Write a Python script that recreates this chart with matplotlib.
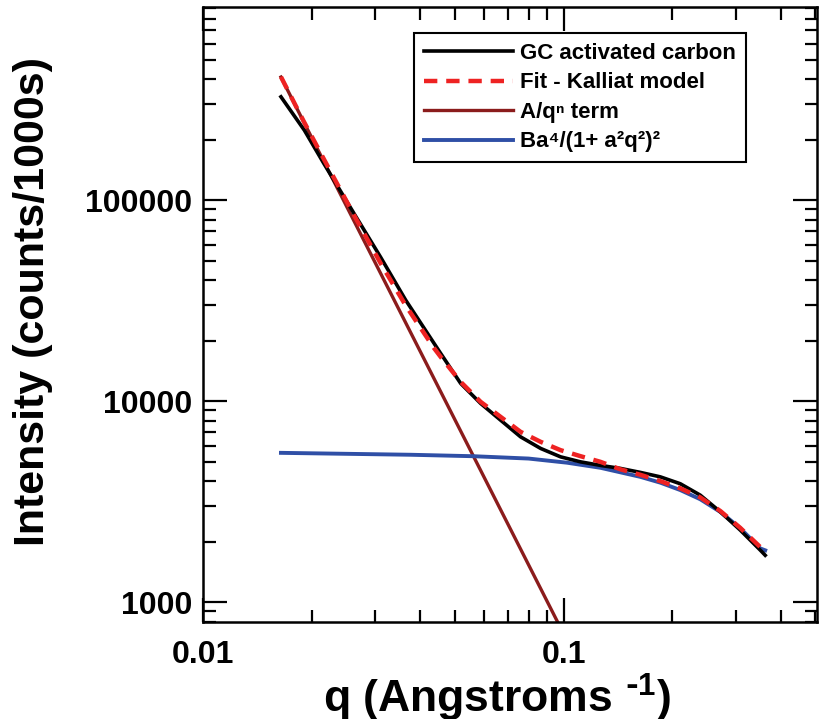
import matplotlib
matplotlib.use("Agg")
import matplotlib.pyplot as plt
from matplotlib.ticker import LogLocator, NullFormatter, FixedLocator, FixedFormatter

plt.rcParams['font.family'] = ['Liberation Sans', 'DejaVu Sans']
plt.rcParams['font.weight'] = 'bold'
plt.rcParams['mathtext.default'] = 'regular'

# data
q_data = [0.01645, 0.0191, 0.0216, 0.0262, 0.0311, 0.0365, 0.0437, 0.04563, 0.05185, 0.0589,
          0.0669, 0.0760, 0.0864, 0.0981, 0.1114, 0.1266, 0.1438, 0.1634, 0.1856, 0.2109,
          0.2395, 0.2723, 0.3093, 0.3513, 0.3627]
i_data = [3.27e5, 2.23e5, 1.53e5, 8.62e4, 5.20e4, 3.18e4, 19440, 17280, 12250, 9741,
          8043, 6644, 5817, 5284, 4989, 4790, 4627, 4420, 4200, 3880,
          3406, 2813, 2281, 1815, 1710]

q_fit = [0.01645, 0.0190, 0.0216, 0.0262, 0.0311, 0.0365, 0.0437, 0.04563, 0.05185, 0.0589,
         0.0669, 0.0760, 0.0864, 0.0981, 0.1114, 0.1266, 0.1438, 0.1634, 0.1856, 0.2109,
         0.2395, 0.2723, 0.3093, 0.3513, 0.3627]
i_fit = [4.11e5, 2.48e5, 1.61e5, 8.46e4, 4.85e4, 2.99e4, 18400, 16610, 12470, 9920,
         8355, 7037, 6275, 5705, 5325, 4990, 4580, 4300, 4000, 3680,
         3320, 2840, 2340, 1880, 1850]

q_pow = [0.01645, 0.0961]
i_pow = [4.1e5, 802]

q_lor = [0.01645, 0.0377, 0.0564, 0.080, 0.1023, 0.1266, 0.1634, 0.1856, 0.2109,
         0.2395, 0.2723, 0.3093, 0.3513, 0.3627]
i_lor = [5530, 5410, 5320, 5180, 4940, 4660, 4200, 3930, 3610,
         3250, 2810, 2330, 1850, 1810]

fig = plt.figure(figsize=(8.19, 7.19), dpi=100)
ax = fig.add_axes([0.2479, 0.1355, 0.7497, 0.8541])

ax.plot(q_data, i_data, color="black", lw=2.6, label="GC activated carbon", zorder=3)
ax.plot(q_fit, i_fit, color="#ee2222", lw=3.2, ls=(0, (3, 2)), label="Fit - Kalliat model", zorder=4)
ax.plot(q_pow, i_pow, color="#8b1c1c", lw=2.4, label="A/qⁿ term", zorder=2)
ax.plot(q_lor, i_lor, color="#2f4fa6", lw=2.8, label="Ba⁴/(1+ a²q²)²", zorder=2)

ax.set_xscale("log")
ax.set_yscale("log")
ax.set_xlim(0.01, 0.505)
ax.set_ylim(800, 9.1e5)

ax.xaxis.set_major_locator(FixedLocator([0.01, 0.1]))
ax.xaxis.set_major_formatter(FixedFormatter(["0.01", "0.1"]))
ax.xaxis.set_minor_locator(LogLocator(base=10, subs=range(2, 10)))
ax.xaxis.set_minor_formatter(NullFormatter())
ax.yaxis.set_major_locator(FixedLocator([1000, 10000, 100000]))
ax.yaxis.set_major_formatter(FixedFormatter(["1000", "10000", "100000"]))
ax.yaxis.set_minor_locator(LogLocator(base=10, subs=range(2, 10)))
ax.yaxis.set_minor_formatter(NullFormatter())

ax.tick_params(which="both", direction="in", top=True, right=True, width=1.6, labelsize=23)
ax.tick_params(which="major", length=17)
ax.tick_params(which="minor", length=9)
ax.tick_params(axis="y", which="major", pad=8)
ax.tick_params(axis="x", which="major", pad=13)
for s in ax.spines.values():
    s.set_linewidth(1.8)

# axis titles placed where the original has them
fig.text(33 / 819, 1 - 301 / 719, "Intensity (counts/1000s)", rotation=90,
         fontsize=31, fontweight="bold", ha="center", va="center")
fig.text(497 / 819, 1 - 713 / 719, r"q (Angstroms $^{\text{-}1}$)",
         fontsize=32, fontweight="bold", ha="center", va="baseline")

leg = ax.legend(loc="upper right", bbox_to_anchor=(0.884, 0.9585), borderaxespad=0,
                fontsize=16, handlelength=4.0, handletextpad=0.3, labelspacing=0.38,
                borderpad=0.45, fancybox=False, framealpha=1, edgecolor="black")
leg.get_frame().set_linewidth(1.5)
for t in leg.get_texts():
    t.set_fontweight("bold")

fig.savefig("out.png", dpi=100)
